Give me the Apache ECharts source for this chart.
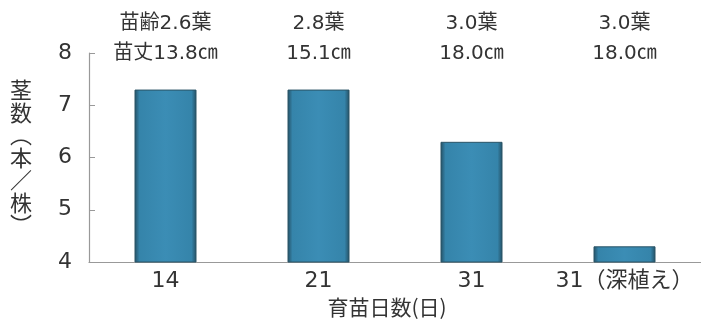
<!DOCTYPE html>
<html><head><meta charset="utf-8">
<script src="https://cdn.jsdelivr.net/npm/echarts@6/dist/echarts.min.js"></script>
<style>html,body{margin:0;padding:0;background:#fff}#c{width:701px;height:320px}</style>
</head><body><div id="c"></div>
<script>
const categories = ['14', '21', '31', '31（深植え）'];
const stemCounts = [7.3, 7.3, 6.3, 4.3];
const leafAge = ['苗齢2.6葉', '2.8葉', '3.0葉', '3.0葉'];
const seedlingHeight = ['苗丈13.8㎝', '15.1㎝', '18.0㎝', '18.0㎝'];
const yTicks = [4, 5, 6, 7, 8];

const font = '"DejaVu Sans", "Noto Sans CJK JP", sans-serif';
const cjk = '"Noto Sans CJK JP", sans-serif';
const chart = echarts.init(document.getElementById('c'));
chart.setOption({
  animation: false,
  backgroundColor: '#fff',
  grid: { left: 89, right: 0, top: 53, bottom: 58, outerBoundsMode: 'none', containLabel: false },
  xAxis: [{
    type: 'category',
    data: categories,
    position: 'bottom',
    name: '育苗日数(日)',
    nameLocation: 'middle',
    nameGap: 31,
    nameTextStyle: { fontFamily: cjk, fontSize: 21, color: '#333', padding: [0, 16, 0, 0] },
    axisLine: { lineStyle: { color: '#999', width: 1.2 } },
    axisTick: { inside: true, length: 6, interval: 0, lineStyle: { color: '#999' } },
    axisLabel: { fontFamily: font, fontSize: 22, color: '#333', margin: 8, interval: 0 }
  }, {
    type: 'category',
    data: leafAge.map((a, i) => a + '\n' + seedlingHeight[i]),
    position: 'top',
    axisLine: { show: false },
    axisTick: { show: false },
    axisLabel: { fontFamily: font, fontSize: 20, color: '#333', lineHeight: 30, margin: -16, interval: 0 }
  }],
  yAxis: {
    type: 'value',
    min: yTicks[0],
    max: yTicks[yTicks.length - 1],
    interval: 1,
    name: '茎\n数\n︵\n本\n／\n株\n︶',
    nameLocation: 'middle',
    nameRotate: 0,
    nameGap: 57,
    nameTextStyle: { fontFamily: cjk, fontSize: 22, color: '#333', lineHeight: 22.5, padding: [0, 0, 20, 0] },
    splitLine: { show: false },
    axisLine: { show: true, lineStyle: { color: '#999', width: 1.2 } },
    axisTick: { show: true, inside: true, length: 6, lineStyle: { color: '#999' } },
    axisLabel: { fontFamily: font, fontSize: 22, color: '#333', margin: 17 }
  },
  series: [{
    type: 'bar',
    data: stemCounts,
    barWidth: 62,
    itemStyle: {
      color: new echarts.graphic.LinearGradient(0, 0, 1, 0, [
        { offset: 0, color: '#244f63' },
        { offset: 0.08, color: '#3584aa' },
        { offset: 0.5, color: '#3b8db5' },
        { offset: 0.92, color: '#3584aa' },
        { offset: 1, color: '#244f63' }
      ]),
      borderColor: '#2a5466',
      borderWidth: 1
    }
  }]
});
</script></body></html>
